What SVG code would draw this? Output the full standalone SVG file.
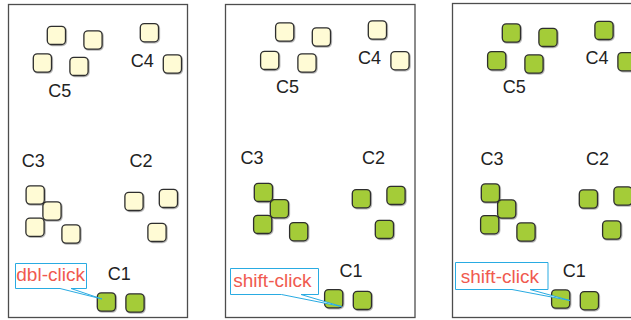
<svg xmlns="http://www.w3.org/2000/svg" width="631" height="320" viewBox="0 0 631 320">
<style>
.frame{fill:#fff;stroke:#4d4d4d;stroke-width:1.3}
.sq{stroke:#2e2e2e;stroke-width:1.3;filter:url(#sh)}
.y{fill:#fffbd5}
.g{fill:#a4cc39}
.lbl{font-family:"Liberation Sans",Arial,sans-serif;font-size:18px;fill:#222}
.co{fill:#fff;stroke:#29abe2;stroke-width:1}
.cot{font-family:"Liberation Sans",Arial,sans-serif;font-size:19px;fill:#f05a4f}
</style>
<defs>
<filter id="sh" x="-20%" y="-20%" width="150%" height="150%">
<feDropShadow dx="0.8" dy="0.8" stdDeviation="0.5" flood-color="#000" flood-opacity="0.35"/>
</filter>
<rect id="s" width="18.2" height="18.2" rx="4"/>
</defs>

<g id="panels">
<rect id="panel1" class="frame" x="8.5" y="4.5" width="179" height="313"/>
<rect id="panel2" class="frame" x="225.5" y="4.5" width="189.5" height="313"/>
<rect id="panel3" class="frame" x="452.5" y="3.5" width="200" height="314"/>
</g>

<!-- Panel 1 -->
<g id="p1-c5">
<use href="#s" class="sq y" x="47.3" y="26.3"/>
<use href="#s" class="sq y" x="83.9" y="30.9"/>
<use href="#s" class="sq y" x="33.3" y="53.9"/>
<use href="#s" class="sq y" x="69.9" y="57.3"/>
<text class="lbl" x="48.3" y="96.7">C5</text>
</g>
<g id="p1-c4">
<use href="#s" class="sq y" x="140.3" y="23.6"/>
<use href="#s" class="sq y" x="163.3" y="54.9"/>
<text class="lbl" x="130.8" y="66.7">C4</text>
</g>
<g id="p1-c3">
<use href="#s" class="sq y" x="42.9" y="201.9"/>
<use href="#s" class="sq y" x="26.1" y="185.9"/>
<use href="#s" class="sq y" x="25.9" y="218.1"/>
<use href="#s" class="sq y" x="61.9" y="224.9"/>
<text class="lbl" x="21.8" y="167">C3</text>
</g>
<g id="p1-c2">
<use href="#s" class="sq y" x="124.9" y="192.3"/>
<use href="#s" class="sq y" x="159.3" y="189.3"/>
<use href="#s" class="sq y" x="147.9" y="223.3"/>
<text class="lbl" x="129.5" y="167">C2</text>
</g>
<g id="p1-c1">
<use href="#s" class="sq g" x="97.3" y="292.9"/>
<use href="#s" class="sq g" x="125.9" y="293.9"/>
<text class="lbl" x="107.8" y="280">C1</text>
</g>

<!-- Panel 2 -->
<g id="p2-c5">
<use href="#s" class="sq y" x="275.6" y="22.9"/>
<use href="#s" class="sq y" x="312.3" y="27.9"/>
<use href="#s" class="sq y" x="260.6" y="51.3"/>
<use href="#s" class="sq y" x="297.9" y="53.9"/>
<text class="lbl" x="276.1" y="93.3">C5</text>
</g>
<g id="p2-c4">
<use href="#s" class="sq y" x="368.3" y="20.9"/>
<use href="#s" class="sq y" x="390.9" y="51.6"/>
<text class="lbl" x="358.1" y="64.3">C4</text>
</g>
<g id="p2-c3">
<use href="#s" class="sq g" x="270.3" y="199.6"/>
<use href="#s" class="sq g" x="254.3" y="183.3"/>
<use href="#s" class="sq g" x="253.6" y="215.3"/>
<use href="#s" class="sq g" x="289.6" y="222.6"/>
<text class="lbl" x="240.5" y="164">C3</text>
</g>
<g id="p2-c2">
<use href="#s" class="sq g" x="352.3" y="189.6"/>
<use href="#s" class="sq g" x="386.9" y="186.3"/>
<use href="#s" class="sq g" x="375.3" y="220.3"/>
<text class="lbl" x="362.1" y="164">C2</text>
</g>
<g id="p2-c1">
<use href="#s" class="sq g" x="324.6" y="289.6"/>
<use href="#s" class="sq g" x="353.3" y="291.3"/>
<text class="lbl" x="339.5" y="276.7">C1</text>
</g>

<!-- Panel 3 -->
<g id="p3-c5">
<use href="#s" class="sq g" x="502.3" y="23.9"/>
<use href="#s" class="sq g" x="538.9" y="28.3"/>
<use href="#s" class="sq g" x="487.6" y="51.6"/>
<use href="#s" class="sq g" x="524.9" y="54.9"/>
<text class="lbl" x="502.8" y="92.7">C5</text>
</g>
<g id="p3-c4">
<use href="#s" class="sq g" x="594.9" y="21.3"/>
<use href="#s" class="sq g" x="617.9" y="52.6"/>
<text class="lbl" x="585.5" y="64.3">C4</text>
</g>
<g id="p3-c3">
<use href="#s" class="sq g" x="497.6" y="199.9"/>
<use href="#s" class="sq g" x="481.3" y="183.9"/>
<use href="#s" class="sq g" x="480.6" y="215.6"/>
<use href="#s" class="sq g" x="516.9" y="222.9"/>
<text class="lbl" x="480.5" y="165">C3</text>
</g>
<g id="p3-c2">
<use href="#s" class="sq g" x="579.3" y="189.9"/>
<use href="#s" class="sq g" x="613.9" y="186.9"/>
<use href="#s" class="sq g" x="602.6" y="220.9"/>
<text class="lbl" x="586.1" y="165">C2</text>
</g>
<g id="p3-c1">
<use href="#s" class="sq g" x="551.6" y="289.9"/>
<use href="#s" class="sq g" x="580.3" y="291.6"/>
<text class="lbl" x="562.8" y="276.7">C1</text>
</g>

<!-- Callouts -->
<g id="connectors">
<g id="callout1">
<path class="co" d="M15.5,263.5 H86.5 V288.5 H71 L102,299 L60,288.5 H15.5 Z"/>
<text class="cot" x="16.3" y="281">dbl-click</text>
</g>
<g id="callout2">
<path class="co" d="M230.5,268.5 H318.5 V294.5 H301 L341.5,306.5 L281.5,294.5 H230.5 Z"/>
<text class="cot" x="233.3" y="287">shift-click</text>
</g>
<g id="callout3">
<path class="co" d="M455.5,262.5 H548 V289.5 H530 L570,300.5 L512,289.5 H455.5 Z"/>
<text class="cot" x="460.8" y="282.5">shift-click</text>
</g>
</g>
</svg>
